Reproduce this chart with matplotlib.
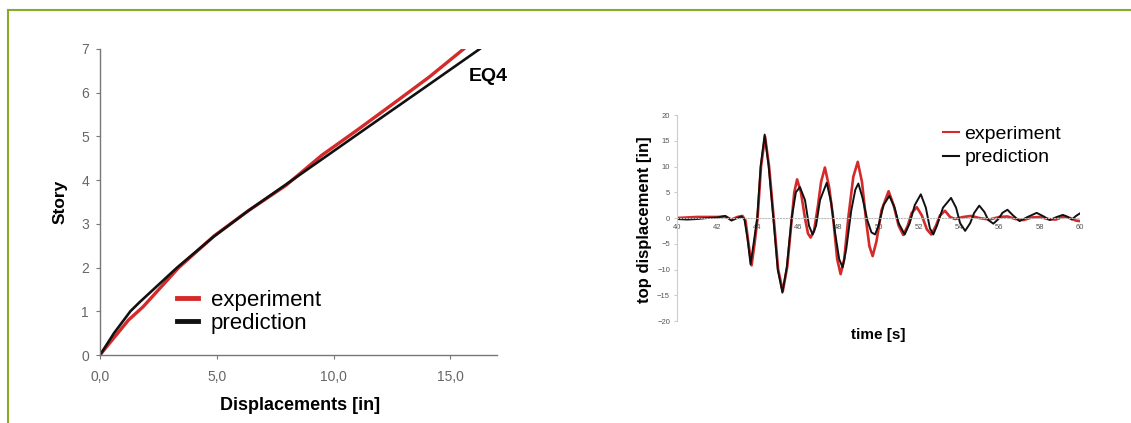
"""
Story drift profile (EQ4) and top displacement time history:
experiment vs. prediction.
"""

import matplotlib.pyplot as plt
from matplotlib.lines import Line2D
from matplotlib.ticker import FuncFormatter

plt.rcParams["font.family"] = ["Liberation Sans", "DejaVu Sans"]

RED = "#d42a2a"
BLACK = "#111111"
TICK_GREY = "#666666"

# --- left panel: displacement profile over height ---
story = [0, 0.5, 1.0, 1.2, 2.0, 2.7, 3.3, 3.9, 4.45, 5.0, 5.5, 6.05, 7.0]
disp_pred = [0.0, 0.6, 1.3, 1.68, 3.3, 4.85, 6.35, 7.96, 9.43, 10.9, 12.24, 13.72, 16.26]
story_exp = [0, 0.2, 0.8, 1.1, 2.0, 2.73, 3.3, 3.88, 4.57, 5.14, 5.75, 6.36, 7.0]
disp_exp = [0.0, 0.3, 1.22, 1.84, 3.37, 4.9, 6.35, 7.96, 9.5, 11.0, 12.56, 14.1, 15.57]
x_ticks_left = [0, 5, 10, 15]
y_ticks_left = [0, 1, 2, 3, 4, 5, 6, 7]

# --- right panel: top displacement time history ---
t_pred = [40.0, 40.5, 41.0, 41.5, 42.0, 42.4, 42.7, 43.0, 43.2, 43.35, 43.5, 43.65,
          43.8, 43.98, 44.15, 44.35, 44.55, 44.78, 45.0, 45.23, 45.45, 45.69, 45.9,
          46.1, 46.35, 46.55, 46.73, 46.9, 47.1, 47.43, 47.65, 47.85, 48.05, 48.22,
          48.4, 48.65, 48.85, 49.0, 49.2, 49.45, 49.65, 49.83, 50.0, 50.25, 50.54,
          50.8, 51.0, 51.3, 51.55, 51.8, 52.1, 52.35, 52.55, 52.72, 52.9, 53.2, 53.6,
          53.85, 54.05, 54.3, 54.55, 54.75, 55.0, 55.25, 55.45, 55.7, 55.95, 56.15,
          56.4, 56.65, 57.0, 57.4, 57.85, 58.2, 58.5, 58.85, 59.15, 59.35, 59.6,
          59.8, 60.0]
v_pred = [-0.2, -0.3, -0.2, 0.0, 0.1, 0.4, -0.5, 0.0, 0.3, -0.3, -4.0, -9.0,
          -5.0, 0.0, 10.0, 16.2, 10.0, 0.0, -10.0, -14.5, -9.5, 0.0, 5.0,
          6.0, 3.5, -1.5, -3.2, -1.5, 3.5, 6.85, 3.0, -3.0, -8.0, -9.6,
          -6.0, 1.5, 5.5, 6.7, 4.0, -0.5, -2.8, -3.2, -1.5, 2.5, 4.3,
          2.0, -1.0, -3.2, -1.0, 2.5, 4.6, 2.0, -2.0, -3.2, -1.5, 2.0, 3.9,
          2.0, -1.0, -2.5, -1.0, 1.0, 2.4, 1.2, -0.4, -1.1, -0.2, 1.0,
          1.6, 0.6, -0.6, 0.2, 1.0, 0.3, -0.4, 0.2, 0.6, 0.3, -0.3,
          0.4, 0.9]

t_exp = [40.0, 40.5, 41.0, 41.5, 42.0, 42.4, 42.7, 43.0, 43.25, 43.4, 43.55, 43.7,
         43.85, 44.0, 44.17, 44.37, 44.57, 44.8, 45.02, 45.25, 45.47, 45.7, 45.82,
         45.96, 46.15, 46.35, 46.5, 46.63, 46.8, 47.0, 47.15, 47.34, 47.55, 47.75,
         47.95, 48.12, 48.3, 48.5, 48.75, 48.97, 49.18, 49.4, 49.55, 49.71, 49.9,
         50.15, 50.5, 50.75, 51.0, 51.23, 51.45, 51.65, 51.9, 52.15, 52.4, 52.62,
         52.85, 53.05, 53.3, 53.55, 53.8, 54.2, 54.6, 55.0, 55.5, 56.0, 56.4, 56.8,
         57.2, 57.6, 58.0, 58.4, 58.8, 59.2, 59.5, 59.8, 60.0]
v_exp = [0.0, 0.1, 0.2, 0.2, 0.2, 0.3, -0.3, 0.2, 0.4, -0.5, -5.0, -9.2,
         -5.0, 0.0, 10.0, 15.8, 10.0, 0.0, -10.0, -14.2, -9.5, 0.0, 5.0,
         7.5, 5.0, 0.0, -3.0, -3.8, -2.5, 2.5, 7.0, 9.8, 6.0, 0.0,
         -8.0, -10.9, -8.0, 0.0, 8.0, 10.9, 7.0, -1.0, -5.5, -7.4, -4.5,
         1.5, 5.2, 2.5, -1.5, -3.3, -1.5, 1.0, 2.1, 0.5, -2.2, -3.2,
         -1.5, 0.5, 1.4, 0.2, -0.2, 0.2, 0.4, 0.0, -0.3, 0.2, 0.3, -0.2,
         -0.4, 0.1, 0.2, -0.2, -0.3, 0.3, 0.0, -0.5, -0.6]
x_ticks_right = [40, 42, 44, 46, 48, 50, 52, 54, 56, 58, 60]
y_ticks_right = [-20, -15, -10, -5, 0, 5, 10, 15, 20]


def main() -> None:
    fig = plt.figure(figsize=(11.31, 4.23), dpi=100)

    # olive frame (top and left edges only)
    frame = "#8aaa2e"
    fig.add_artist(Line2D([8 / 1131, 1.0], [1 - 10 / 423, 1 - 10 / 423],
                          transform=fig.transFigure, color=frame, lw=1.5))
    fig.add_artist(Line2D([8 / 1131, 8 / 1131], [0.0, 1 - 10 / 423],
                          transform=fig.transFigure, color=frame, lw=1.5))

    # left panel
    ax = fig.add_axes([100 / 1131, 68 / 423, 397 / 1131, 306 / 423])
    ax.plot(disp_exp, story_exp, color=RED, lw=2.4, label="experiment")
    ax.plot(disp_pred, story, color=BLACK, lw=1.9, label="prediction")
    ax.set_xlim(0, 17)
    ax.set_ylim(0, 7)
    ax.set_xticks(x_ticks_left)
    ax.set_yticks(y_ticks_left)
    ax.xaxis.set_major_formatter(FuncFormatter(lambda v, _: f"{v:.1f}".replace(".", ",")))
    for side in ("top", "right"):
        ax.spines[side].set_visible(False)
    for side in ("left", "bottom"):
        ax.spines[side].set_color("#777777")
        ax.spines[side].set_linewidth(1.0)
    ax.tick_params(colors="#777777", labelcolor=TICK_GREY, labelsize=10, length=3, width=0.8)
    ax.tick_params(axis="x", pad=8)
    ax.tick_params(axis="y", pad=5)
    ax.set_xlabel("Displacements [in]", fontsize=13, fontweight="bold")
    ax.set_ylabel("Story", fontsize=12.5, fontweight="bold")
    ax.xaxis.set_label_coords(0.504, -0.137)
    ax.yaxis.set_label_coords(-0.081, 0.5)
    ax.text(488, 423 - 76.7, "EQ4", transform=None, fontsize=14, fontweight="bold",
            ha="center", va="center")
    leg = ax.legend(loc="center left", bbox_to_anchor=(0.193, 0.1415), frameon=False,
                    fontsize=16, handlelength=0.97, handletextpad=0.56,
                    labelspacing=0.09, borderpad=0, borderaxespad=0)
    for h in leg.get_lines():
        h.set_linewidth(3.5)

    # right panel
    ax2 = fig.add_axes([677 / 1131, 102 / 423, 403 / 1131, 206 / 423])
    ax2.plot(t_exp, v_exp, color=RED, lw=1.9, label="experiment")
    ax2.plot(t_pred, v_pred, color=BLACK, lw=1.4, label="prediction")
    ax2.set_xlim(40, 60)
    ax2.set_ylim(-20, 20)
    ax2.set_xticks(x_ticks_right)
    ax2.set_yticks(y_ticks_right)
    for side in ("top", "right"):
        ax2.spines[side].set_visible(False)
    ax2.spines["left"].set_color("#cccccc")
    ax2.spines["bottom"].set_position(("data", 0))
    ax2.spines["bottom"].set_color("#bbbbbb")
    ax2.spines["bottom"].set_linestyle(":")
    ax2.tick_params(axis="x", length=0, pad=4, labelsize=5.5, labelcolor="#555555")
    ax2.tick_params(axis="y", length=2, color="#cccccc", pad=3, labelsize=5.5,
                    labelcolor="#555555")
    ax2.set_ylabel("top displacement [in]", fontsize=12, fontweight="bold")
    ax2.yaxis.set_label_coords(-0.063, 0.49)
    ax2.text(878, 423 - 335, "time [s]", transform=None, fontsize=11,
             fontweight="bold", ha="center", va="center")
    leg2 = ax2.legend(loc="center left", bbox_to_anchor=(0.66, 0.85), frameon=False,
                      fontsize=14, handlelength=0.8, handletextpad=0.3,
                      labelspacing=0.3, borderpad=0, borderaxespad=0)
    for h in leg2.get_lines():
        h.set_linewidth(1.5)

    fig.savefig("out.png", dpi=100)
    plt.close(fig)


if __name__ == "__main__":
    main()
